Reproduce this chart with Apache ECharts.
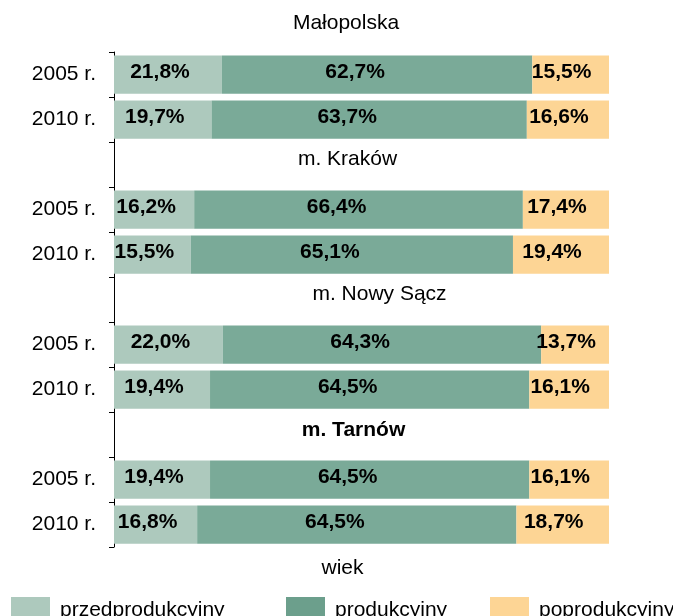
<!DOCTYPE html>
<html>
<head>
<meta charset="utf-8">
<script src="https://cdn.jsdelivr.net/npm/echarts@6/dist/echarts.min.js"></script>
<style>
  html, body { margin: 0; padding: 0; background: #fff; }
  #chart { width: 673px; height: 616px; }
</style>
</head>
<body>
<div id="chart"></div>
<script>
// dane
const groups = ['Małopolska', 'm. Kraków', 'm. Nowy Sącz', 'm. Tarnów'];
const years = ['2005 r.', '2010 r.'];
const seriesNames = ['przedprodukcyjny', 'produkcyjny', 'poprodukcyjny'];
// kolejno: Małopolska 2005, 2010, Kraków 2005, 2010, Nowy Sącz 2005, 2010, Tarnów 2005, 2010
const przed = [21.8, 19.7, 16.2, 15.5, 22.0, 19.4, 19.4, 16.8];
const prod = [62.7, 63.7, 66.4, 65.1, 64.3, 64.5, 64.5, 64.5];
const popro = [15.5, 16.6, 17.4, 19.4, 13.7, 16.1, 16.1, 18.7];

const colors = ['#adc9bd', '#7aaa98', '#fdd595'];
const font = "'Liberation Sans', Arial, sans-serif";

// wiersze osi: pierwsza grupa ma tytuł nad wykresem, kolejne mają wiersz z tytułem
const rowKeys = [];
const rowLabels = [];
const rowIndex = []; // indeks w tablicach danych lub -1 dla wiersza z tytułem
const titleRows = [];
groups.forEach((g, gi) => {
  if (gi > 0) {
    rowKeys.push('t' + gi);
    rowLabels.push('');
    rowIndex.push(-1);
    titleRows.push({ row: rowKeys.length - 1, group: gi });
  }
  years.forEach((y, yi) => {
    rowKeys.push('r' + gi + '_' + yi);
    rowLabels.push(y);
    rowIndex.push(gi * years.length + yi);
  });
});

function rows(arr) {
  return rowIndex.map(i => (i < 0 ? null : arr[i]));
}

const labelShift = [[-8, -2], [-22, -2], [-9, -2]];
const titleShift = { 1: [-14, -5], 2: [18, -5], 3: [-8, -4] };

const chart = echarts.init(document.getElementById('chart'));

const barSeries = [przed, prod, popro].map((arr, si) => ({
  name: seriesNames[si],
  type: 'bar',
  stack: 'wiek',
  data: rows(arr),
  barCategoryGap: '15%',
  itemStyle: { color: colors[si] },
  label: {
    show: true,
    position: 'inside',
    offset: labelShift[si],
    fontFamily: font,
    fontSize: 21,
    fontWeight: 'bold',
    color: '#000',
    formatter: p => p.value.toFixed(1).replace('.', ',') + '%'
  },
  emphasis: { disabled: true }
}));

// podpisy grup jako etykiety niewidocznych punktów w wierszach tytułowych
const titleSeries = {
  name: 'tytuły',
  type: 'scatter',
  symbolSize: 0,
  silent: true,
  itemStyle: { color: '#000', opacity: 1 },
  data: titleRows.map(t => ({
    value: [50, t.row],
    label: {
      formatter: groups[t.group],
      offset: titleShift[t.group],
      fontWeight: t.group === 3 ? 'bold' : 'normal'
    }
  })),
  label: {
    show: true,
    position: 'inside',
    fontFamily: font,
    fontSize: 21,
    color: '#000',
    opacity: 1
  },
  emphasis: { disabled: true }
};

const legendLeft = [11, 286, 490];
const legendColors = ['#adc9bd', '#6c9f8c', '#fdd595'];

chart.setOption({
  animation: false,
  grid: { left: 114, right: 64, top: 52, bottom: 69 },
  xAxis: {
    type: 'value',
    min: 0,
    max: 100,
    axisLine: { show: false },
    axisTick: { show: false },
    axisLabel: { show: false },
    splitLine: { show: false },
    name: 'wiek',
    nameLocation: 'middle',
    nameGap: 11,
    nameTextStyle: { fontFamily: font, fontSize: 21, color: '#000', padding: [0, 38, 0, 0] }
  },
  yAxis: {
    type: 'category',
    inverse: true,
    data: rowKeys,
    axisLine: { show: true, lineStyle: { color: '#000', width: 1 } },
    axisTick: { show: true, length: 5, lineStyle: { color: '#000' } },
    axisLabel: {
      margin: 18,
      fontFamily: font,
      fontSize: 21,
      color: '#000',
      formatter: (v, i) => rowLabels[i]
    }
  },
  legend: seriesNames.map((n, i) => ({
    data: [{ name: n, itemStyle: { color: legendColors[i] } }],
    left: legendLeft[i],
    top: 597,
    padding: 0,
    icon: 'rect',
    itemWidth: 39,
    itemHeight: 26,
    selectedMode: false,
    textStyle: { fontFamily: font, fontSize: 21, color: '#000', padding: [0, 0, 0, 5] }
  })),
  graphic: [{
    type: 'text',
    x: 346,
    y: 23,
    style: {
      text: groups[0],
      font: '21px ' + font,
      fill: '#000',
      align: 'center',
      verticalAlign: 'middle'
    }
  }],
  series: barSeries.concat([titleSeries])
});
</script>
</body>
</html>
